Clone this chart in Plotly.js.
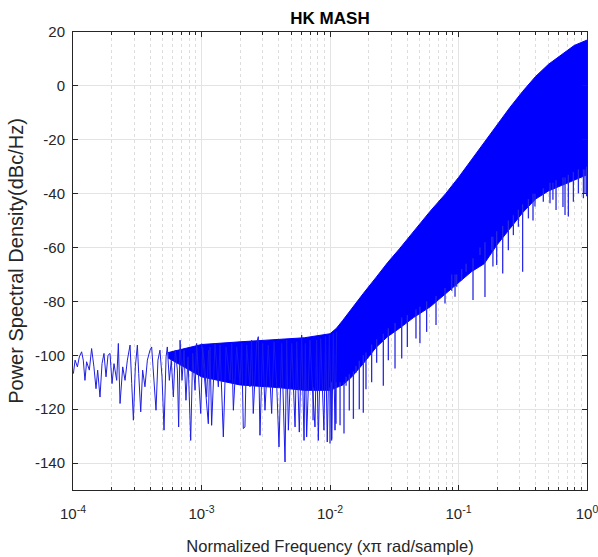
<!DOCTYPE html>
<html>
<head>
<meta charset="utf-8">
<script src="https://cdn.plot.ly/plotly-3.0.1.min.js"></script>
<style>html,body{margin:0;padding:0;background:#fff;}#chart{width:598px;height:557px;}</style>
</head>
<body>
<div id="chart"></div>
<script>
// ---- data ----
// sparse low-frequency part of the PSD trace (10^-4 .. 10^-3)
var lowF = [1.007e-4,1.038e-4,1.082e-4,1.12e-4,1.167e-4,1.202e-4,1.239e-4,1.276e-4,1.34e-4,1.396e-4,1.455e-4,1.51e-4,1.556e-4,1.622e-4,1.682e-4,1.742e-4,1.807e-4,1.872e-4,1.941e-4,2.013e-4,2.085e-4,2.188e-4,2.254e-4,2.323e-4,2.438e-4,2.541e-4,2.649e-4,2.78e-4,2.864e-4,2.951e-4,3.055e-4,3.17e-4,3.246e-4,3.365e-4,3.483e-4,3.631e-4,3.79e-4,3.973e-4,4.093e-4,4.217e-4,4.425e-4,4.581e-4,4.75e-4,4.93e-4,5.11e-4,5.3e-4,5.42e-4,5.62e-4,5.82e-4,6.04e-4,6.25e-4,6.49e-4,6.64e-4,6.81e-4,7.05e-4,7.31e-4,7.57e-4,7.85e-4,8.24e-4,8.54e-4,8.91e-4,9.17e-4,9.51e-4,9.86e-4,1.021e-3,1.064e-3,1.096e-3,1.136e-3];
var lowDb = [-106.8,-101.8,-104.3,-100.6,-98.7,-101.8,-109.3,-102.4,-105.5,-97.5,-104.3,-112.4,-105.5,-115.5,-103.1,-99.3,-108.0,-100.0,-99.3,-110.5,-103.1,-109.3,-95.6,-117.9,-104.3,-109.3,-101.8,-96.2,-110.5,-124.1,-104.3,-96.2,-106.8,-121.0,-105.5,-111.7,-101.8,-98.1,-96.9,-106.8,-120.4,-101.8,-98.1,-108.0,-127.8,-100.6,-96.9,-109.3,-101.8,-115.5,-98.1,-105.5,-126.6,-94.4,-109.3,-98.1,-116.7,-100.6,-131.6,-99.3,-113.0,-95.6,-106.8,-121.6,-96.9,-105.5,-115.5,-98.1];

// mid part (10^-3 .. 10^-2): peaks and dips of the trace
var midF = [1.003e-3,1.13e-3,1.164e-3,1.199e-3,1.273e-3,1.352e-3,1.393e-3,1.479e-3,1.552e-3,1.667e-3,1.718e-3,1.77e-3,1.879e-3,1.995e-3,2.056e-3,2.115e-3,2.178e-3,2.244e-3,2.382e-3,2.455e-3,2.529e-3,2.685e-3,2.767e-3,2.851e-3,2.992e-3,3.119e-3,3.311e-3,3.516e-3,3.664e-3,3.846e-3,4.009e-3,4.207e-3,4.467e-3,4.603e-3,4.743e-3,5.035e-3,5.346e-3,5.508e-3,5.77e-3,6.02e-3,6.28e-3,6.43e-3,6.58e-3,6.98e-3,7.33e-3,7.64e-3,7.87e-3,8.11e-3,8.46e-3,8.97e-3,9.24e-3,9.52e-3,9.88e-3,1.03e-2,1.062e-2,1.094e-2,1.127e-2];
var midDb = [-95.6,-125.4,-96.9,-126.0,-95.6,-111.7,-96.2,-130.3,-96.9,-109.3,-95.6,-120.4,-96.9,-110.5,-95.6,-127.2,-126.6,-96.2,-111.7,-94.4,-121.6,-95.6,-93.1,-129.7,-95.6,-120.4,-96.2,-121.6,-95.0,-110.5,-134.0,-95.6,-139.6,-94.4,-127.8,-95.6,-126.6,-95.0,-128.5,-92.5,-131.6,-95.6,-130.3,-94.4,-113.0,-126.6,-94.4,-131.6,-93.8,-127.8,-93.1,-132.2,-92.5,-131.6,-91.9,-127.8,-91.3];

// dense band: upper and lower edge of the solid blue region
var bandF = [5.5e-4,1e-3,1.995e-3,3.98e-3,6.31e-3,1e-2,1.122e-2,1.259e-2,1.479e-2,1.82e-2,2.291e-2,2.818e-2,3.467e-2,4.467e-2,6.026e-2,7.943e-2,0.1,0.1259,0.1585,0.1995,0.2512,0.3162,0.3981,0.5012,0.631,0.7943,1.0];
var bandHigh = [-99,-96,-95,-94,-93.5,-92,-90,-87,-82.5,-77,-71,-65.5,-60.5,-54,-46.5,-40,-34,-27.5,-21,-14.5,-8,-2,3.5,8,11.5,15,17];
var bandLow = [-101,-108,-111,-112,-113,-113,-112,-111,-108,-103,-97,-93,-90,-86,-82,-77,-73,-69,-66,-59,-53,-47,-42,-39,-37,-35,-33];

// downward spikes below the band (10^-2.1 .. 10^0)
var spikeF = [7.38e-3,1.0e-2,1.03e-2,1.114e-2,1.197e-2,1.285e-2,1.334e-2,1.413e-2,1.521e-2,1.592e-2,1.69e-2,1.816e-2,1.905e-2,2.109e-2,2.307e-2,2.6e-2,2.844e-2,3.206e-2,3.614e-2,3.999e-2,4.667e-2,5.01e-2,5.649e-2,6.683e-2,7.852e-2,8.851e-2,9.397e-2,9.683e-2,0.1059,0.1146,0.1297,0.1469,0.1607,0.1811,0.1853,0.1982,0.2208,0.2443,0.2673,0.2924,0.3155,0.3499,0.38,0.3936,0.4571,0.5152,0.543,0.5741,0.65,0.6745,0.7161,0.7834,0.857,0.9376,0.964,0.993];
var spikeTop = [-112,-112,-110,-110,-110,-110,-108,-107,-106,-104,-102,-100,-99,-96,-94,-92,-90,-88,-86,-85,-83,-82,-80,-78,-75,-70,-70,-70,-68,-66,-64,-60,-58,-56,-56,-54,-52,-50,-48,-46,-44,-42,-40,-40,-38,-36,-36,-35,-34,-34,-33,-32,-31,-31,-31,-30];
var spikeBottom = [-124.1,-132.7,-131,-125.4,-126,-129,-111.3,-120.5,-123.6,-106.5,-120,-121.3,-112.6,-110,-102.8,-111.3,-101.8,-104.9,-101.2,-96.9,-93.8,-95.5,-91.3,-88.8,-80.8,-76,-78.3,-74.6,-72.1,-69,-79.5,-62.8,-78.4,-61,-67,-66.5,-69.6,-61,-55.4,-52.3,-69,-49.2,-50,-44.8,-43,-43.6,-42.3,-46.1,-45,-47.9,-48.5,-43,-39.9,-41.7,-40,-41];

// axis ticks
var xTickVals = [1e-4,1e-3,1e-2,1e-1,1];
var xTickText = ['10<sup>-4</sup>','10<sup>-3</sup>','10<sup>-2</sup>','10<sup>-1</sup>','10<sup>0</sup>'];
var yTickVals = [-140,-120,-100,-80,-60,-40,-20,0,20];
var yTickText = yTickVals.map(function(v){return String(v);});

// ---- build traces ----
var sx = [], sy = [];
for (var i = 0; i < spikeF.length; i++) {
  sx.push(spikeF[i], spikeF[i], null);
  sy.push(spikeTop[i], spikeBottom[i], null);
}
var blue = '#0000ff';
var traces = [
  {x: bandF, y: bandLow, type: 'scatter', mode: 'lines', line: {color: blue, width: 1}, hoverinfo: 'skip', showlegend: false},
  {x: bandF, y: bandHigh, type: 'scatter', mode: 'lines', fill: 'tonexty', fillcolor: blue, line: {color: blue, width: 1}, hoverinfo: 'skip', showlegend: false},
  {x: sx, y: sy, type: 'scatter', mode: 'lines', line: {color: '#2a2ae2', width: 1.3}, connectgaps: false, showlegend: false},
  {x: midF, y: midDb, type: 'scatter', mode: 'lines', line: {color: '#1a1aee', width: 1}, showlegend: false},
  {x: lowF, y: lowDb, type: 'scatter', mode: 'lines', line: {color: '#2020e0', width: 1}, showlegend: false}
];

var fam = 'Liberation Sans, Arial, sans-serif';
var axisFont = {family: fam, size: 15, color: '#262626'};
var layout = {
  width: 598, height: 557,
  margin: {l: 73, r: 11, t: 32, b: 67},
  paper_bgcolor: '#ffffff', plot_bgcolor: '#ffffff',
  title: {text: '<b>HK MASH</b>', font: {family: fam, size: 17, color: '#000'}, x: 0.5, xref: 'paper', xanchor: 'center', y: 0.967, yref: 'container', yanchor: 'middle'},
  xaxis: {
    type: 'log', range: [-4, 0], tickmode: 'array', tickvals: xTickVals, ticktext: xTickText,
    ticks: 'inside', ticklen: 5, tickcolor: '#262626', showline: true, linecolor: '#262626', linewidth: 1, mirror: 'allticks',
    showgrid: true, gridcolor: '#e3e3e3', gridwidth: 1, zeroline: false,
    minor: {dtick: 'D1', ticks: 'inside', ticklen: 3, tickcolor: '#262626', showgrid: true, gridcolor: '#dddddd', griddash: 'dot', gridwidth: 1},
    tickfont: axisFont, ticklabelstandoff: 10, ticklabeloverflow: 'allow',
    title: {text: 'Normalized Frequency (x&#960; rad/sample)', font: {family: fam, size: 16.5, color: '#262626'}, standoff: 19},
    automargin: false
  },
  yaxis: {
    range: [-150, 20], tickmode: 'array', tickvals: yTickVals, ticktext: yTickText,
    ticks: 'inside', ticklen: 5, tickcolor: '#262626', showline: true, linecolor: '#262626', linewidth: 1, mirror: 'allticks',
    showgrid: true, gridcolor: '#e3e3e3', gridwidth: 1, zeroline: false,
    tickfont: axisFont, ticklabelstandoff: 4,
    title: {text: 'Power Spectral Density(dBc/Hz)', font: {family: fam, size: 20, color: '#262626'}, standoff: 5},
    automargin: false
  }
};
Plotly.newPlot('chart', traces, layout, {staticPlot: true, displayModeBar: false});
</script>
</body>
</html>
